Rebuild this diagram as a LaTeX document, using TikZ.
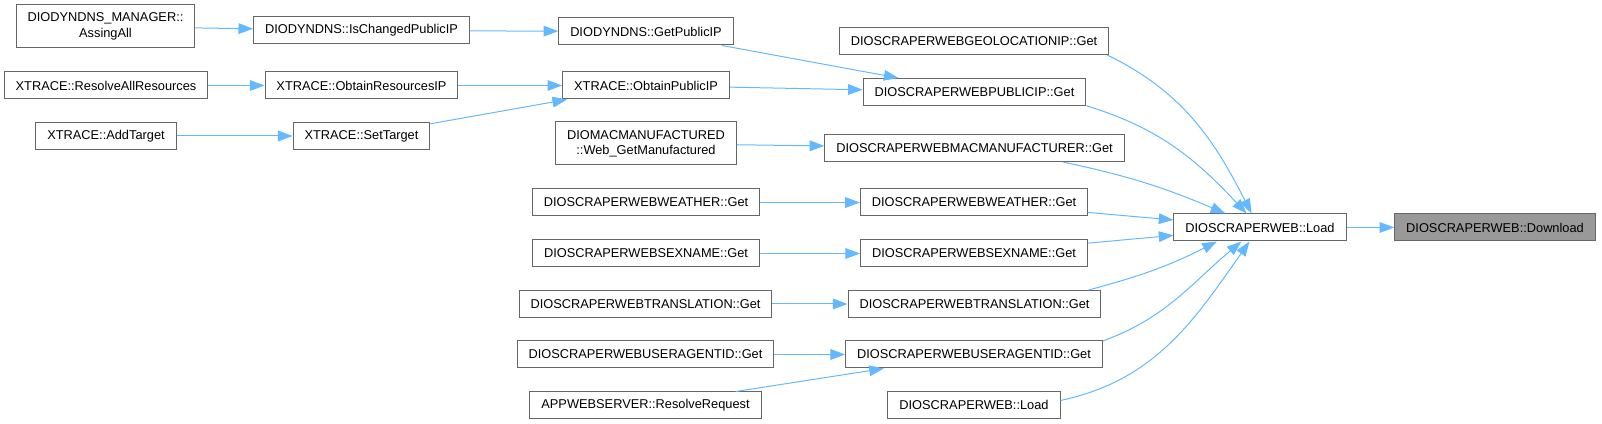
\documentclass[tikz,border=0pt]{standalone}
\usepackage{fontspec}
\setmainfont{Liberation Sans}
\usetikzlibrary{arrows.meta}
\definecolor{edgeblue}{HTML}{63B8FF}
\definecolor{boxline}{HTML}{666666}
\definecolor{rootfill}{HTML}{999999}

\begin{document}
\begin{tikzpicture}[x=0.75pt, y=0.75pt,
  every node/.style={font=\fontsize{9.6}{11.5}\selectfont},
  fn/.style={draw=boxline, fill=white, line width=0.75pt, minimum height=20.25pt, inner xsep=8.6pt, inner ysep=2pt, align=center},
  fn2/.style={fn, minimum height=32.25pt},
  rootfn/.style={fn, fill=rootfill},
  call/.style={edgeblue, line width=0.75pt, -{Triangle[length=11pt, width=8pt]}}]

  \useasboundingbox (0,0) rectangle (1602,424);

  % --- COLUMN 1 ---
  \node[fn2] (assingall) at (105.5,397.5) {DIODYNDNS\_MANAGER::\\AssingAll};
  \node[fn] (resolveall) at (106,338.5) {XTRACE::ResolveAllResources};
  \node[fn] (addtarget) at (106,288) {XTRACE::AddTarget};

  % --- COLUMN 2 ---
  \node[fn] (ischanged) at (361.5,393.5) {DIODYNDNS::IsChangedPublicIP};
  \node[fn] (obtainres) at (361.5,338.5) {XTRACE::ObtainResourcesIP};
  \node[fn] (settarget) at (361.5,288) {XTRACE::SetTarget};

  % --- COLUMN 3 ---
  \node[fn] (getpublicip) at (646,392.5) {DIODYNDNS::GetPublicIP};
  \node[fn] (obtainpub) at (646,338.5) {XTRACE::ObtainPublicIP};
  \node[fn2] (webgetmanuf) at (646,280.5) {DIOMACMANUFACTURED\\::Web\_GetManufactured};
  \node[fn] (weatherA) at (646,221.5) {DIOSCRAPERWEBWEATHER::Get};
  \node[fn] (sexnameA) at (646,170.5) {DIOSCRAPERWEBSEXNAME::Get};
  \node[fn] (translationA) at (645.5,120) {DIOSCRAPERWEBTRANSLATION::Get};
  \node[fn] (useragentA) at (645.5,69.5) {DIOSCRAPERWEBUSERAGENTID::Get};
  \node[fn] (resolvereq) at (645.5,18.5) {APPWEBSERVER::ResolveRequest};

  % --- COLUMN 4 ---
  \node[fn] (geoloc) at (974,383) {DIOSCRAPERWEBGEOLOCATIONIP::Get};
  \node[fn] (publicip) at (974.5,332) {DIOSCRAPERWEBPUBLICIP::Get};
  \node[fn] (macmanuf) at (974.5,276) {DIOSCRAPERWEBMACMANUFACTURER::Get};
  \node[fn] (weatherB) at (974,221.5) {DIOSCRAPERWEBWEATHER::Get};
  \node[fn] (sexnameB) at (974,170.5) {DIOSCRAPERWEBSEXNAME::Get};
  \node[fn] (translationB) at (974.5,120) {DIOSCRAPERWEBTRANSLATION::Get};
  \node[fn] (useragentB) at (974,69.5) {DIOSCRAPERWEBUSERAGENTID::Get};
  \node[fn] (webload) at (974,19) {DIOSCRAPERWEB::Load};

  % --- LOAD AND DOWNLOAD ---
  \node[fn] (load) at (1260,196.5) {DIOSCRAPERWEB::Load};
  \node[rootfn] (download) at (1495,196.5) {DIOSCRAPERWEB::Download};

  % --- CALLS ---
  \draw[call] (assingall) -- (ischanged);
  \draw[call] (ischanged) -- (getpublicip);
  \draw[call] (getpublicip) -- (publicip);
  \draw[call] (resolveall) -- (obtainres);
  \draw[call] (obtainres) -- (obtainpub);
  \draw[call] (addtarget) -- (settarget);
  \draw[call] (settarget) -- (obtainpub);
  \draw[call] (obtainpub) -- (publicip);
  \draw[call] (webgetmanuf) -- (macmanuf);
  \draw[call] (weatherA) -- (weatherB);
  \draw[call] (sexnameA) -- (sexnameB);
  \draw[call] (translationA) -- (translationB);
  \draw[call] (useragentA) -- (useragentB);
  \draw[call] (resolvereq) -- (useragentB);

  % into Load
  \draw[call] (geoloc.-6) to[out=-26, in=117] (load.121);
  \draw[call] (publicip.-7) to[out=-17, in=133] (load.134);
  \draw[call] (macmanuf.-9) to[out=-12, in=157] (load.158);
  \draw[call] (weatherB) -- (load);
  \draw[call] (sexnameB) -- (load);
  \draw[call] (translationB.7) to[out=15, in=-153] (load.-162);
  \draw[call] (useragentB.6) to[out=20, in=-140] (load.-143);
  \draw[call] (webload.3) to[out=12, in=-125] (load.-127);
  \draw[call] (load) -- (download);

\end{tikzpicture}
\end{document}
